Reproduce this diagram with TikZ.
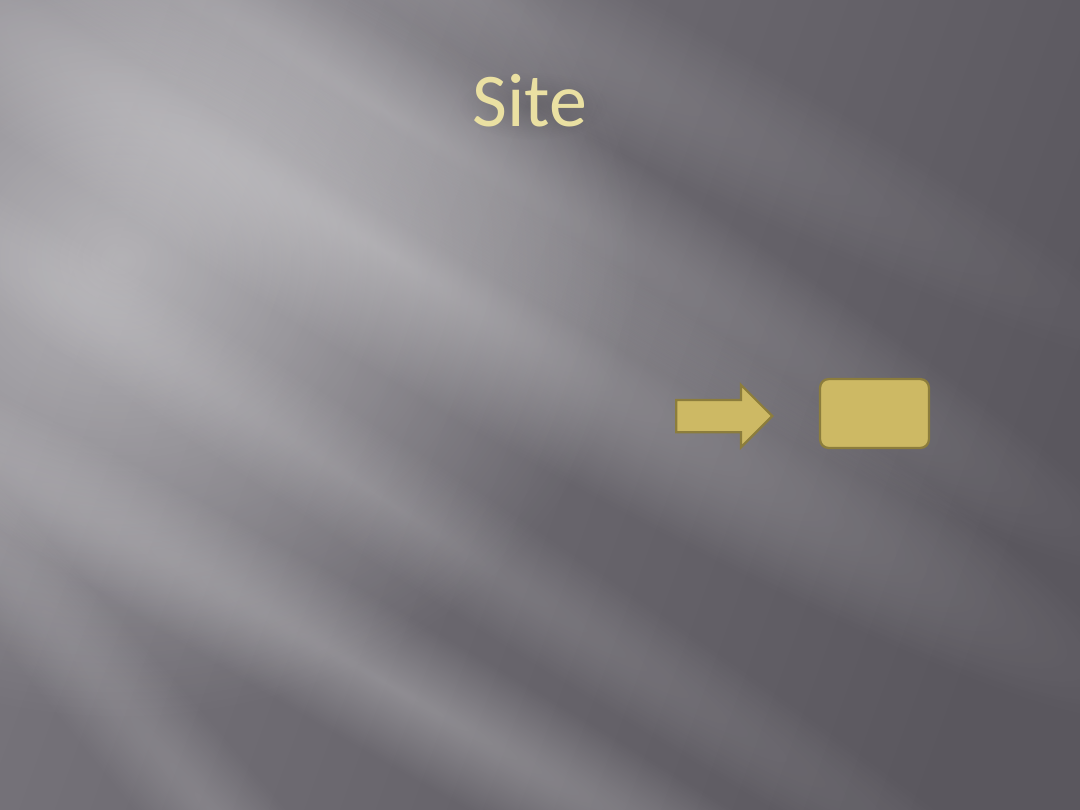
\documentclass[tikz,border=0pt]{standalone}
\usepackage{fontspec}
\setmainfont{Carlito}
\usetikzlibrary{shapes.arrows,fadings}

\definecolor{bgdark}{RGB}{90,87,94}
\definecolor{bgmid}{RGB}{120,117,124}
\definecolor{gold}{RGB}{205,185,100}
\definecolor{goldline}{RGB}{140,125,60}
\definecolor{titlegold}{RGB}{234,224,162}

\tikzfading[name=glow, inner color=transparent!0, outer color=transparent!100]

\tikzset{
  goldbox/.style={draw=goldline, line width=1.6pt, fill=gold, rounded corners=6pt},
  arrowshape/.style={single arrow, draw=goldline, line width=1.6pt, fill=gold,
    inner xsep=0pt, inner ysep=0.375cm, single arrow head extend=0.375cm,
    minimum height=2.4cm, anchor=west},
  ray/.style={fill=white, path fading=glow}
}

\begin{document}
\begin{tikzpicture}[x=0.025cm,y=-0.025cm]
\useasboundingbox (0,0) rectangle (1080,810);
% background
\shade[left color=bgmid, right color=bgdark, shading angle=70] (0,0) rectangle (1080,810);
\begin{scope}
\clip (0,0) rectangle (1080,810);
\fill[ray, opacity=0.45] (120,260) ellipse (520 and 460);
% rays: angle / start y / half width / opacity
\foreach \a/\y/\w/\o in {31/20/110/0.30, 31/-120/90/0.25, 30/460/70/0.25, 33/250/60/0.15, 50/560/60/0.18, 28/-260/80/0.15}{
  \begin{scope}[transform canvas={rotate around={-\a:(0,\y)}}]
    \fill[ray, opacity=\o] (450,\y) ellipse (900 and \w);
  \end{scope}
}
% soft shadow under the title
\fill[black, opacity=0.12, path fading=glow] (533,106) ellipse (75 and 34);
\end{scope}

\node[text=titlegold, font=\fontsize{54}{60}\selectfont] (title) at (530,101) {Site};

\node[arrowshape] (arrow) at (675,416) {};
\node[goldbox, minimum width=2.72cm, minimum height=1.72cm] (box) at (874.5,413.5) {};
\end{tikzpicture}
\end{document}
